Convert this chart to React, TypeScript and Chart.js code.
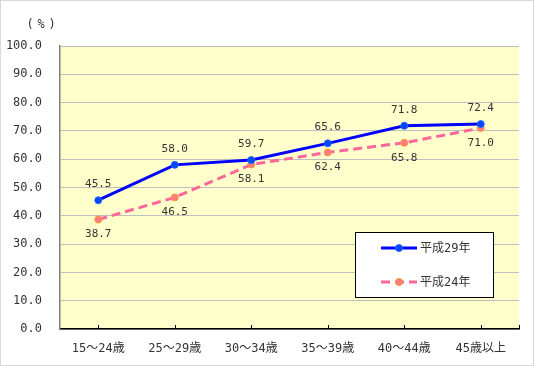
import React, { useEffect, useRef } from "react";
import { Chart, registerables } from "chart.js";

Chart.register(...registerables);

const categories = ["15～24歳", "25～29歳", "30～34歳", "35～39歳", "40～44歳", "45歳以上"];
const seriesH29 = [45.5, 58.0, 59.7, 65.6, 71.8, 72.4];
const seriesH24 = [38.7, 46.5, 58.1, 62.4, 65.8, 71.0];
const seriesNames = ["平成29年", "平成24年"];
const yTicks = [0, 10, 20, 30, 40, 50, 60, 70, 80, 90, 100];
const unitChars = ["(", "%", ")"];

const FONT = "'DejaVu Sans Mono', 'Noto Sans CJK JP', monospace";
const TEXT = "#333333";

const labelPlugin = {
  id: "customDecor",
  afterDatasetsDraw(chart: any) {
    const ctx = chart.ctx;
    const area = chart.chartArea;
    ctx.save();
    ctx.font = `11px ${FONT}`;
    ctx.fillStyle = TEXT;
    ctx.textAlign = "center";
    ctx.textBaseline = "middle";
    chart.data.datasets.forEach((ds: any, di: number) => {
      const meta = chart.getDatasetMeta(di);
      meta.data.forEach((pt: any, i: number) => {
        const v = ds.data[i];
        const y = di === 0 ? pt.y - 16 : pt.y + 15;
        ctx.fillText(v.toFixed(1), pt.x, y);
      });
    });
    // x tick marks inside
    const xs = chart.scales.x;
    ctx.strokeStyle = "#000";
    ctx.lineWidth = 1;
    for (let i = 0; i < categories.length; i++) {
      const x = Math.round(xs.getPixelForValue(i)) + 0.5;
      ctx.beginPath();
      ctx.moveTo(x, area.bottom);
      ctx.lineTo(x, area.bottom - 4);
      ctx.stroke();
    }
    const xr = Math.round(area.right) + 0.5;
    ctx.beginPath();
    ctx.moveTo(xr, area.bottom);
    ctx.lineTo(xr, area.bottom - 4);
    ctx.stroke();
    // unit label
    ctx.font = `12px ${FONT}`;
    ctx.fillText(unitChars[0], 30, 25);
    ctx.fillText(unitChars[1], 41, 25);
    ctx.fillText(unitChars[2], 52, 25);
    // legend
    const lx = area.right - 164;
    const ly = area.bottom - 97;
    const lw = 138;
    const lh = 65;
    ctx.fillStyle = "#fff";
    ctx.fillRect(lx, ly, lw, lh);
    ctx.strokeStyle = "#000";
    ctx.lineWidth = 1;
    ctx.strokeRect(lx + 0.5, ly + 0.5, lw, lh);
    const rows = [ly + 16, ly + 50];
    chart.data.datasets.forEach((ds: any, di: number) => {
      const ry = rows[di];
      ctx.save();
      ctx.strokeStyle = ds.borderColor;
      ctx.lineWidth = 3;
      ctx.setLineDash(ds.borderDash || []);
      ctx.beginPath();
      ctx.moveTo(lx + 26, ry);
      ctx.lineTo(lx + 62, ry);
      ctx.stroke();
      ctx.setLineDash([]);
      ctx.beginPath();
      ctx.arc(lx + 44, ry, 3.5, 0, Math.PI * 2);
      ctx.fillStyle = ds.pointBackgroundColor;
      ctx.fill();
      ctx.lineWidth = 1;
      ctx.strokeStyle = ds.pointBorderColor;
      ctx.stroke();
      ctx.restore();
      ctx.fillStyle = TEXT;
      ctx.textAlign = "left";
      ctx.font = `12px ${FONT}`;
      ctx.fillText(ds.label, lx + 65, ry + 1);
    });
    // outer border
    ctx.strokeStyle = "#D9D9D9";
    ctx.lineWidth = 1;
    ctx.strokeRect(0.5, 0.5, chart.width - 1, chart.height - 1);
    ctx.restore();
  },
  beforeDraw(chart: any) {
    const ctx = chart.ctx;
    const a = chart.chartArea;
    ctx.save();
    ctx.fillStyle = "#fff";
    ctx.fillRect(0, 0, chart.width, chart.height);
    ctx.fillStyle = "#FFFFCC";
    ctx.fillRect(a.left, a.top, a.right - a.left, a.bottom - a.top);
    ctx.restore();
  },
};

export default function App() {
  const ref = useRef<HTMLCanvasElement>(null);
  useEffect(() => {
    if (!ref.current) return;
    const chart = new Chart(ref.current, {
      type: "line",
      data: {
        labels: categories,
        datasets: [
          {
            label: seriesNames[0],
            data: seriesH29,
            borderColor: "#0000FF",
            borderWidth: 3,
            pointBackgroundColor: "#0044FF",
            pointBorderColor: "#1E6BFF",
            pointRadius: 3.5,
            pointBorderWidth: 1,
            tension: 0,
          },
          {
            label: seriesNames[1],
            data: seriesH24,
            borderColor: "#FF6699",
            borderWidth: 3,
            borderDash: [9, 5],
            pointBackgroundColor: "#FF7C80",
            pointBorderColor: "#FF9933",
            pointRadius: 3.5,
            pointBorderWidth: 1,
            tension: 0,
          },
        ],
      },
      options: {
        responsive: false,
        animation: false,
        layout: { padding: { left: 0, top: 46, right: 15, bottom: 0 } },
        plugins: { legend: { display: false }, tooltip: { enabled: false } },
        scales: {
          x: {
            offset: true,
            grid: { display: false, drawTicks: false },
            border: { color: "#000", width: 1.5 },
            ticks: { color: TEXT, font: { family: FONT, size: 12 }, padding: 13, maxRotation: 0 },
            afterFit: (s: any) => { s.height = 37; },
          },
          y: {
            min: 0,
            max: 100,
            afterBuildTicks: (s: any) => { s.ticks = yTicks.map((v) => ({ value: v })); },
            grid: { color: "#BFBFBF", drawTicks: false },
            border: { color: "#808080", width: 1.5 },
            ticks: {
              color: TEXT,
              font: { family: FONT, size: 12 },
              padding: 18,
              callback: (v: any) => Number(v).toFixed(1),
            },
            afterFit: (s: any) => { s.width = 60; },
          },
        },
      },
      plugins: [labelPlugin],
    });
    return () => chart.destroy();
  }, []);
  return (
    <div style={{ position: "absolute", left: 0, top: 0, width: 534, height: 366, overflow: "hidden" }}>
      <canvas ref={ref} width={534} height={366} style={{ display: "block" }} />
    </div>
  );
}
